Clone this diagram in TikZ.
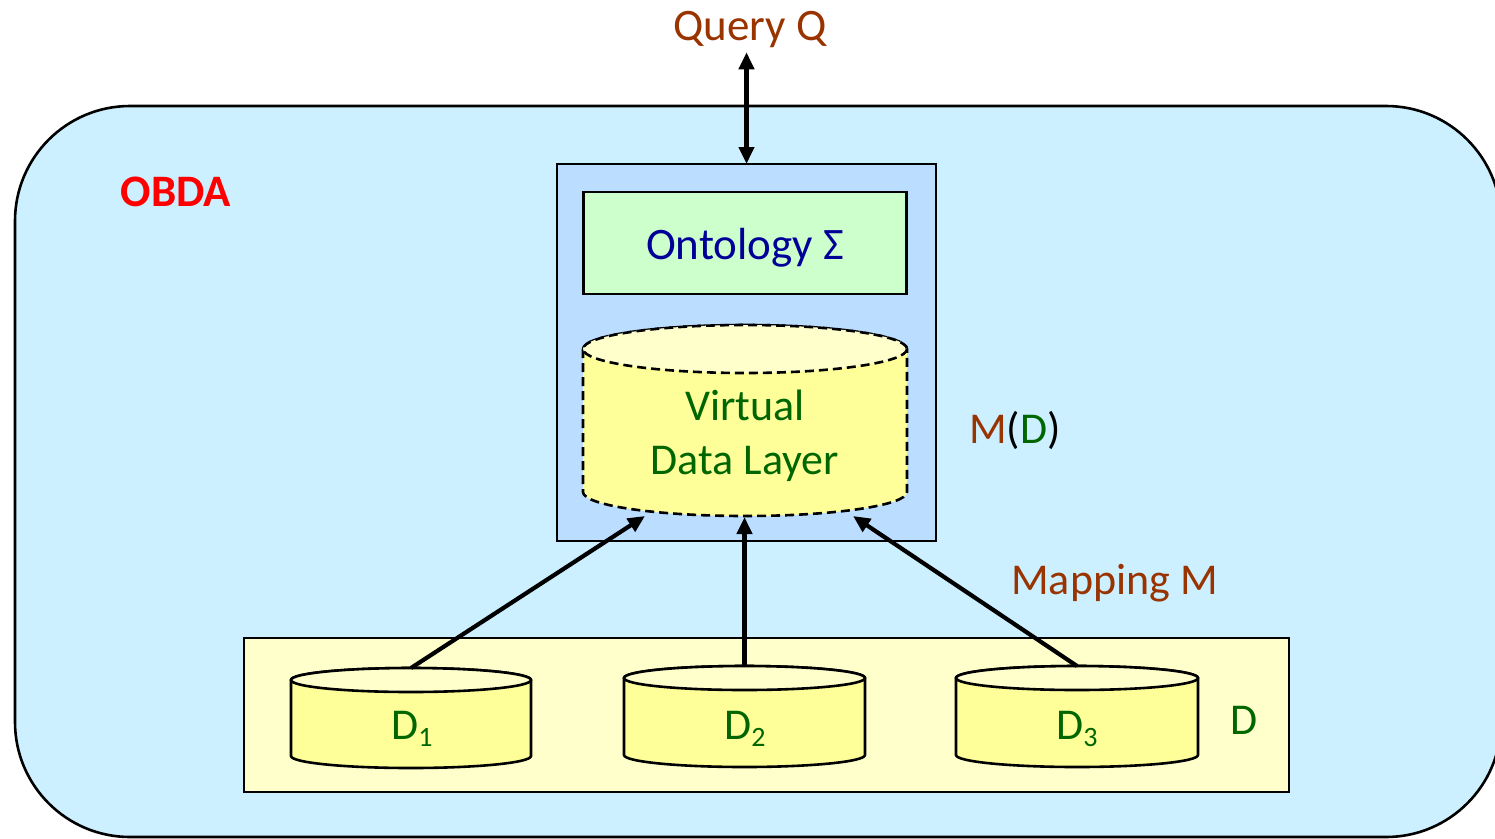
\documentclass[tikz,border=0pt]{standalone}
\usepackage{fontspec}
\setmainfont{Carlito}
\usetikzlibrary{arrows.meta,calc}

\definecolor{obdabg}{HTML}{CCF0FF}
\definecolor{sysbg}{HTML}{BBDDFF}
\definecolor{ontobg}{HTML}{CCFFCC}
\definecolor{cylbody}{HTML}{FFFF99}
\definecolor{cyltop}{HTML}{FFFFCC}
\definecolor{srcbg}{HTML}{FFFFCC}
\definecolor{qbrown}{HTML}{993300}
\definecolor{ontoblue}{HTML}{000099}
\definecolor{dgreen}{HTML}{006600}
\definecolor{obdared}{HTML}{FF0000}

% subscript digit set in the same family
\newcommand\lowidx[1]{\raisebox{-7pt}{\fontsize{28}{28}\selectfont #1}}

% database cylinder: centre x, top-ellipse y, bottom-ellipse y, x radius, y radius, style
\newcommand\dbcyl[6]{%
  \path[#6, fill=cylbody]
    (#1-#4,#2) -- (#1-#4,#3)
    arc[start angle=180, end angle=0, x radius=#4, y radius=#5]
    -- (#1+#4,#2)
    arc[start angle=0, end angle=-180, x radius=#4, y radius=#5] -- cycle;
  \path[#6, fill=cyltop] (#1,#2) ellipse[x radius=#4, y radius=#5];
}

\begin{document}
\begin{tikzpicture}[x=1pt, y=-1pt,
  every node/.style={inner sep=0pt, outer sep=0pt},
  big/.style={font=\fontsize{45}{54}\selectfont},
  lbl/.style={font=\fontsize{44}{54}\selectfont, anchor=base},
  frame/.style={draw=black, line width=2.6pt},
  cylline/.style={draw=black, line width=2.6pt},
  cyldash/.style={draw=black, line width=2.6pt, dash pattern=on 9pt off 5pt},
  holder/.style={minimum width=#1},
  flow/.style={line width=4.2pt, -{Triangle[length=17pt,width=15pt]}},
  biflow/.style={line width=4.2pt, {Triangle[length=17pt,width=15pt]}-{Triangle[length=17pt,width=15pt]}}]

\useasboundingbox (0,0) rectangle (1495,838);

% OBDA system frame
\node[frame, fill=obdabg, rounded corners=115pt, minimum width=1486pt,
      minimum height=731pt, anchor=north west] (obda) at (15,106) {};
\node[font=\fontsize{45}{54}\selectfont\bfseries, text=obdared, anchor=base] (obdalbl) at (176,206) {OBDA};

% ontology layer
\node[frame, fill=sysbg, minimum width=379pt, minimum height=377pt] (sys) at (746.5,352.5) {};
\node[frame, fill=ontobg, minimum width=323pt, minimum height=102pt,
      big, text=ontoblue, text height=32pt, text depth=0pt] (onto) at (745,243) {Ontology Σ};

% virtual data layer
\dbcyl{745}{349}{492}{162}{24}{cyldash}
\node[minimum width=324pt, minimum height=192pt] (vdl) at (745,421) {};
\node[big, font=\fontsize{44}{54}\selectfont, text=dgreen, align=center] (vdltxt) at (745,436) {Virtual\\Data Layer};
\coordinate (vdlL) at ($(vdl.south)+(-100,-1)$);
\coordinate (vdlR) at ($(vdl.south)+(108,-1)$);

\node[lbl, text=qbrown] (md) at (1015,443) {M\textcolor{black}{(}\textcolor{dgreen}{D}\textcolor{black}{)}};

% query
\node[big, text=qbrown, anchor=base] (query) at (750,40) {Query Q};
\draw[biflow, shorten <=5pt] (query.south -| sys.north) -- (sys.north);

% data sources
\node[frame, fill=srcbg, minimum width=1045pt, minimum height=154pt] (srcs) at (766.5,715) {};
\node[lbl, text=dgreen] (dlbl) at (1244.5,734) {D};

\dbcyl{411}{680}{756}{120}{12}{cylline}
\dbcyl{744.5}{678}{755}{120.5}{12}{cylline}
\dbcyl{1077}{678}{755}{121}{12}{cylline}
\node[minimum width=240pt, minimum height=100pt] (d1) at (411,718) {};
\node[minimum width=241pt, minimum height=101pt] (d2) at (744.5,716.5) {};
\node[minimum width=242pt, minimum height=101pt] (d3) at (1077,716.5) {};
\node[lbl, text=dgreen] (d1txt) at (412,739) {D\lowidx{1}};
\node[lbl, text=dgreen] (d2txt) at (745,739) {D\lowidx{2}};
\node[lbl, text=dgreen] (d3txt) at (1077,739) {D\lowidx{3}};

% mapping
\draw[flow] (d1.north) -- (vdlL);
\draw[flow] (d2.north) -- (d2.north |- vdl.south);
\draw[flow] (d3.north) -- (vdlR);
\node[lbl, text=qbrown] (maplbl) at (1114.5,594) {Mapping M};

\end{tikzpicture}
\end{document}
